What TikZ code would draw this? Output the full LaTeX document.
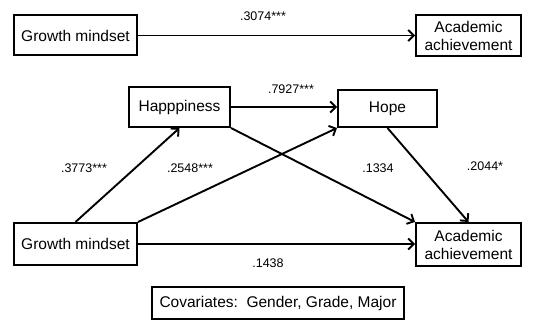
\documentclass[tikz,border=0pt]{standalone}
\usepackage{fontspec}
\setmainfont{Liberation Sans}
\usetikzlibrary{arrows.meta,positioning}

\begin{document}
\begin{tikzpicture}[x=1pt, y=-1pt]
\tikzset{
    mybox/.style={rectangle, draw=black, line width=2pt, inner sep=0pt, align=center, font=\fontsize{15.5}{18}\selectfont},
    myarrow/.style={-{Straight Barb[length=5.5pt, width=11pt]}, line width=1.9pt},
    mycoef/.style={inner sep=0pt, font=\fontsize{12.5}{14}\selectfont}
}
\useasboundingbox (0,0) rectangle (551,320);

% total effect
\node[mybox, minimum width=123pt, minimum height=40pt] (growth1) at (75.5,35.5) {Growth mindset};
\node[mybox, minimum width=105pt, minimum height=41pt] (achieve1) at (468.5,35.5) {Academic\\achievement};
\draw[myarrow] (growth1.east) -- (achieve1.west);
\node[mycoef] (c3074) at (263,16) {.3074***};

% mediation model
\node[mybox, minimum width=101pt, minimum height=40pt] (happy) at (179.5,107) {Happpiness};
\node[mybox, minimum width=99pt, minimum height=37pt] (hope) at (387.5,108.5) {Hope};
\node[mybox, minimum width=123pt, minimum height=42pt] (growth2) at (75.5,244) {Growth mindset};
\node[mybox, minimum width=105pt, minimum height=43pt] (achieve2) at (468.5,244.5) {Academic\\achievement};
\node[mybox, minimum width=252pt, minimum height=32pt] (covar) at (278,303) {Covariates:\ \ Gender, Grade, Major};

\draw[myarrow] (growth2.north) -- (happy.south);
\draw[myarrow] (growth2.north east) -- (hope.south west);
\draw[myarrow] (happy.east) -- (hope.west |- happy.east);
\draw[myarrow] (happy.south east) -- (achieve2.north west);
\draw[myarrow] (hope.south) -- (achieve2.north);
\draw[myarrow] (growth2.east) -- (achieve2.west |- growth2.east);

\node[mycoef] (c3773) at (84,168) {.3773***};
\node[mycoef] (c2548) at (190,168) {.2548***};
\node[mycoef] (c7927) at (291,89) {.7927***};
\node[mycoef] (c1334) at (378,168) {.1334};
\node[mycoef] (c2044) at (485,166) {.2044*};
\node[mycoef] (c1438) at (268,263) {.1438};

\end{tikzpicture}
\end{document}
